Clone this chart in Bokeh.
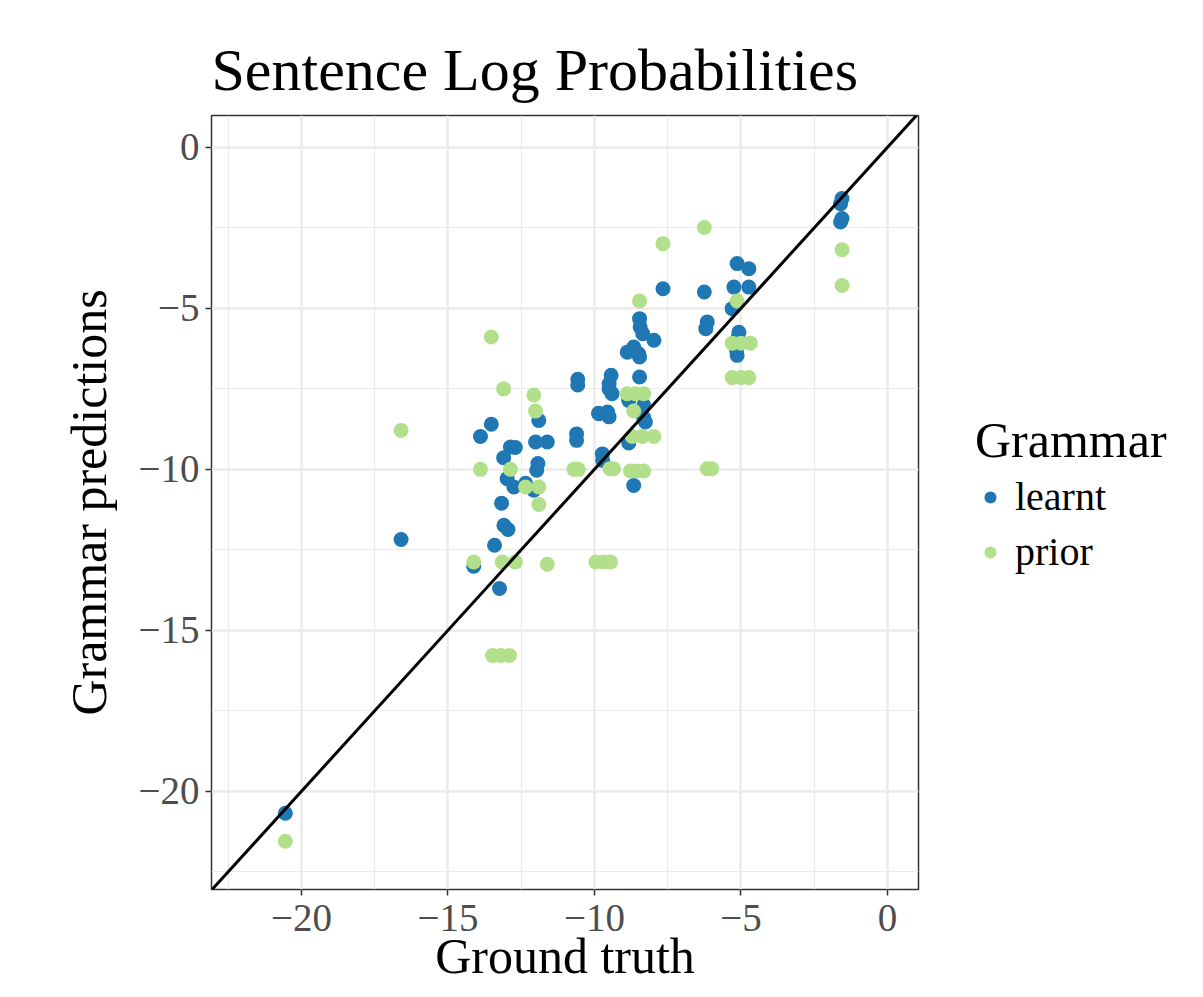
from bokeh.plotting import figure
from bokeh.models import Legend, LegendItem, Slope, FixedTicker, Range1d
from bokeh.embed import file_html
from bokeh.resources import INLINE

learnt_x = [-20.55, -16.6, -11.9, -10.57, -10.57, -9.86, -13.52, -13.89, -12.87, -12.7,
            -12.01, -11.61, -10.61, -10.61, -13.1, -11.93, -11.97, -12.98, -12.75, -12.35,
            -12.07, -13.17, -13.09, -12.95, -13.41, -14.12, -13.24, -7.66, -6.25, -5.13,
            -4.73, -5.24, -4.73, -5.3, -8.46, -8.44, -8.35, -7.97, -6.15, -6.2,
            -5.07, -5.13, -5.1, -5.15, -8.88, -8.66, -8.49, -8.46, -8.46, -9.43,
            -9.5, -9.4, -9.5, -8.83, -8.32, -9.85, -9.5, -9.55, -8.26, -8.32,
            -8.83, -9.73, -9.72, -8.66, -1.55, -1.6, -1.55, -1.6]
learnt_y = [-20.68, -12.18, -8.48, -7.2, -7.38, -8.26, -8.6, -8.98, -9.31, -9.32,
            -9.15, -9.15, -8.9, -9.1, -9.64, -9.82, -10.03, -10.29, -10.55, -10.43,
            -10.65, -11.05, -11.74, -11.87, -12.36, -13.01, -13.7, -4.39, -4.49, -3.61,
            -3.77, -4.34, -4.34, -5.01, -5.32, -5.58, -5.79, -5.99, -5.42, -5.63,
            -5.74, -6.46, -5.9, -6.3, -6.36, -6.2, -6.41, -6.51, -7.13, -7.08,
            -7.34, -7.65, -7.5, -7.86, -8.01, -8.27, -8.37, -8.22, -8.53, -8.4,
            -9.18, -9.52, -9.72, -10.5, -1.59, -1.75, -2.21, -2.32]

prior_x = [-20.55, -16.6, -13.52, -13.1, -12.07, -12.01, -13.89, -12.87, -10.7, -10.55,
           -12.35, -11.9, -11.9, -14.12, -13.15, -12.7, -11.61, -9.95, -9.7, -9.45,
           -13.48, -13.2, -12.9, -6.25, -7.66, -5.13, -8.46, -5.3, -5.0, -4.68,
           -5.3, -5.0, -4.73, -8.88, -8.6, -8.32, -8.66, -8.71, -8.37, -7.97,
           -9.47, -9.35, -8.77, -8.55, -8.32, -6.15, -6.0, -1.55, -1.55]
prior_y = [-21.55, -8.79, -5.89, -7.5, -7.69, -8.19, -10.0, -10.0, -10.0, -10.0,
           -10.55, -10.55, -11.09, -12.88, -12.88, -12.88, -12.95, -12.88, -12.88, -12.88,
           -15.78, -15.78, -15.78, -2.49, -2.99, -4.77, -4.77, -6.08, -6.08, -6.08,
           -7.15, -7.15, -7.15, -7.65, -7.65, -7.65, -8.19, -8.98, -8.98, -8.98,
           -9.98, -9.98, -10.05, -10.05, -10.05, -9.98, -9.98, -3.18, -4.29]

ticks = [-20, -15, -10, -5, 0]
tick_labels = ["\u221220", "\u221215", "\u221210", "\u22125", "0"]
minor = [-22.5, -17.5, -12.5, -7.5, -2.5]

FONT = "Liberation Serif"
BLUE = "#1F78B4"
GREEN = "#B2DF8A"

p = figure(width=1195, height=989, output_backend="svg", toolbar_location=None,
           x_range=Range1d(-23.07, 1.06), y_range=Range1d(-23.05, 0.99),
           min_border_left=211, min_border_right=277, min_border_top=115, min_border_bottom=100,
           title="Sentence Log Probabilities")
p.frame_width = 707
p.frame_height = 774

p.title.text_font = FONT
p.title.text_font_size = "60px"
p.title.text_font_style = "normal"
p.title.text_color = "black"
p.title.standoff = 26

r1 = p.scatter(learnt_x, learnt_y, size=15, color=BLUE, line_color=None)
r2 = p.scatter(prior_x, prior_y, size=15, color=GREEN, line_color=None)
p.add_layout(Slope(gradient=1, y_intercept=0, line_color="black", line_width=3))

for ax in (p.xaxis[0], p.yaxis[0]):
    ax.ticker = FixedTicker(ticks=ticks, minor_ticks=minor)
    ax.major_label_overrides = dict(zip(ticks, tick_labels))
    ax.major_label_text_font = FONT
    ax.major_label_text_font_size = "39px"
    ax.major_label_text_color = "#4D4D4D"
    ax.axis_line_color = None
    ax.major_tick_line_color = "#333333"
    ax.major_tick_line_width = 1.5
    ax.major_tick_out = 6
    ax.major_tick_in = 0
    ax.minor_tick_line_color = None
    ax.axis_label_text_font = FONT
    ax.axis_label_text_font_size = "50px"
    ax.axis_label_text_font_style = "normal"
    ax.axis_label_text_color = "black"

p.xaxis.axis_label = "Ground truth"
p.yaxis.axis_label = "Grammar predictions"
p.xaxis.major_label_standoff = 9
p.yaxis.major_label_standoff = 6
p.xaxis.axis_label_standoff = -6
p.yaxis.axis_label_standoff = 19

p.grid.grid_line_color = "#EBEBEB"
p.grid.grid_line_width = 2.5
p.grid.minor_grid_line_color = "#EBEBEB"
p.grid.minor_grid_line_width = 1.2
p.outline_line_color = "#333333"
p.outline_line_width = 1.5
p.background_fill_color = "white"
p.border_fill_color = "white"

legend = Legend(items=[LegendItem(label="learnt", renderers=[r1]),
                       LegendItem(label="prior", renderers=[r2])],
                location=(57, 314), title="Grammar",
                title_text_font=FONT, title_text_font_size="50px",
                title_text_font_style="normal", title_text_color="black",
                label_text_font=FONT, label_text_font_size="40px",
                label_text_color="black",
                glyph_width=30, glyph_height=40, label_standoff=10,
                spacing=8, padding=0, margin=57, border_line_color=None,
                background_fill_alpha=0, title_standoff=4)
p.add_layout(legend, "right")

open("out.html", "w").write(file_html(p, INLINE))
